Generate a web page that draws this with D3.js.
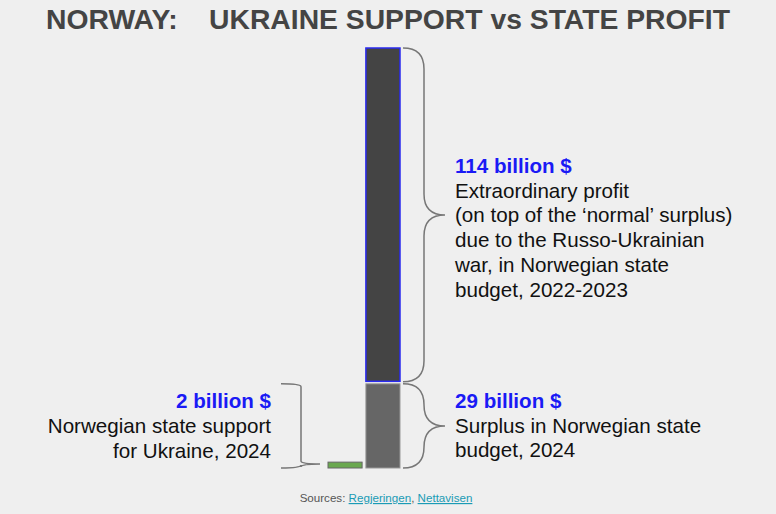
<!DOCTYPE html>
<html>
<head>
<meta charset="utf-8">
<script src="https://cdn.jsdelivr.net/npm/d3@7"></script>
<style>
html,body{margin:0;padding:0;background:#efefef;}
svg{display:block;font-family:"Liberation Sans",Arial,sans-serif;}
</style>
</head>
<body>
<svg id="chart" width="776" height="514"></svg>
<script>
// ---- data ----
const columns = ["support", "budget"];
const supportValue = [2];          // billion $, Norwegian support to Ukraine 2024
const surplusValue = [29];         // billion $, normal surplus 2024
const extraValue = [114];          // billion $, extraordinary war profit 2022-2023
const labelSupport = ["2 billion $", "Norwegian state support", "for Ukraine, 2024"];
const labelSurplus = ["29 billion $", "Surplus in Norwegian state", "budget, 2024"];
const labelExtra = ["114 billion $", "Extraordinary profit", "(on top of the \u2018normal\u2019 surplus)", "due to the Russo-Ukrainian", "war, in Norwegian state", "budget, 2022-2023"];
const titleText = "NORWAY:\u00a0\u00a0\u00a0\u00a0UKRAINE SUPPORT vs STATE PROFIT";

const svg = d3.select("#chart");

svg.append("text")
  .attr("x", 388).attr("y", 29)
  .attr("text-anchor", "middle")
  .attr("font-size", 28.3).attr("font-weight", "bold")
  .attr("fill", "#444")
  .text(titleText);

const x = d3.scaleBand().domain(columns).range([328, 400]).paddingInner(0.1).paddingOuter(0);
const total = surplusValue[0] + extraValue[0];
const y = d3.scaleLinear().domain([0, total]).range([468, 48]);

// green bar
svg.append("rect")
  .attr("x", x("support")).attr("width", x.bandwidth())
  .attr("y", y(supportValue[0])).attr("height", y(0) - y(supportValue[0]))
  .attr("fill", "#6aa84f").attr("stroke", "#666").attr("stroke-width", 1);

// surplus bar
svg.append("rect")
  .attr("x", x("budget")).attr("width", x.bandwidth())
  .attr("y", y(surplusValue[0]) + 1).attr("height", y(0) - y(surplusValue[0]) - 1)
  .attr("fill", "#666").attr("stroke", "#999").attr("stroke-width", 1);

// extra bar
svg.append("rect")
  .attr("x", x("budget")).attr("width", x.bandwidth())
  .attr("y", y(total)).attr("height", y(surplusValue[0]) - y(total) - 1.5)
  .attr("fill", "#444").attr("stroke", "#2a2af0").attr("stroke-width", 1.5);

// brace generator (arms on left at x0, spine at xm, tip at xt)
function brace(x0, xm, xt, y1, yt, y2, r1, r2) {
  return `M${x0},${y1} Q${xm},${y1} ${xm},${y1 + r1} L${xm},${yt - r1} Q${xm},${yt} ${xt},${yt}` +
         ` Q${xm},${yt} ${xm},${yt + r2} L${xm},${y2 - r2} Q${xm},${y2} ${x0},${y2}`;
}
const bx0 = x("budget") + x.bandwidth() + 3;
const bStyle = g => g.attr("fill", "none").attr("stroke", "#777").attr("stroke-width", 1.5);

const yTop = y(total), yMid = y(surplusValue[0]) - 1, yBot = y(0);
svg.append("path")
  .attr("d", brace(bx0, bx0 + 21, bx0 + 42, yTop, (yTop + yMid) / 2, yMid, 21, 21))
  .call(bStyle);
svg.append("path")
  .attr("d", brace(bx0, bx0 + 21, bx0 + 42, yMid + 2, (yMid + 2 + yBot) / 2, yBot, 21, 21))
  .call(bStyle);
// left brace for support
const lx0 = x("support") - 47;
const ySupTip = (y(supportValue[0]) + y(0)) / 2 - 1;
svg.append("path")
  .attr("d", brace(lx0, lx0 + 20, lx0 + 39, y(surplusValue[0]) + 1, ySupTip, yBot, 3, 3))
  .call(bStyle);

// labels
function block(lines, tx, ty, anchor, lh) {
  const t = svg.append("text").attr("x", tx).attr("y", ty).attr("text-anchor", anchor).attr("font-size", 20.6);
  lines.forEach((l, i) => {
    t.append("tspan").attr("x", tx).attr("dy", i === 0 ? 0 : lh)
      .attr("font-weight", i === 0 ? "bold" : "normal")
      .attr("fill", i === 0 ? "#1a1af5" : "#111")
      .text(l);
  });
}
block(labelExtra, 455, 173, "start", 24.7);
block(labelSurplus, 455, 408, "start", 24.6);
block(labelSupport, 271, 408, "end", 25);

// sources
const src = svg.append("text").attr("x", 386).attr("y", 502).attr("text-anchor", "middle").attr("font-size", 11.6);
src.append("tspan").attr("fill", "#555").text("Sources: ");
src.append("tspan").attr("fill", "#1a9bb5").attr("text-decoration", "underline").text("Regjeringen");
src.append("tspan").attr("fill", "#555").text(", ");
src.append("tspan").attr("fill", "#1a9bb5").attr("text-decoration", "underline").text("Nettavisen");
</script>
</body>
</html>
